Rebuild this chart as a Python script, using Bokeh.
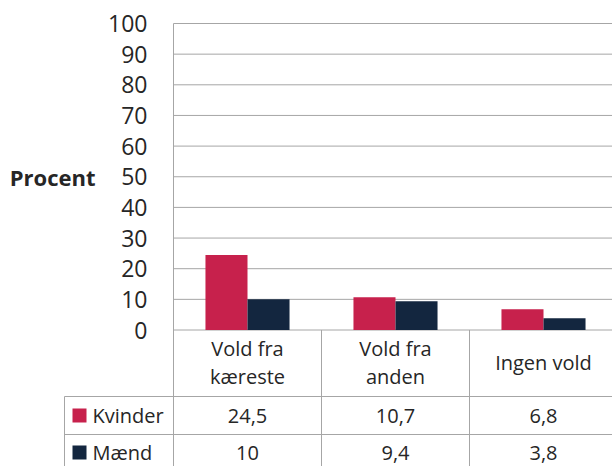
from bokeh.plotting import figure
from bokeh.models import Range1d
from bokeh.embed import file_html
from bokeh.resources import INLINE
from bokeh.core.properties import value

categories = ["Vold fra\nkæreste", "Vold fra\nanden", "Ingen vold"]
series_names = ["Kvinder", "Mænd"]
kvinder = [24.5, 10.7, 6.8]
maend = [10, 9.4, 3.8]
y_ticks = [0, 10, 20, 30, 40, 50, 60, 70, 80, 90, 100]
y_label = "Procent"
colors = ["#C7214C", "#13263F"]

FONT = "Open Sans"
TXT = "#262626"
GRID = "#A6A6A6"

# scale: one category = 148 px, 10 % = 30.65 px
PXU = 148.0
PYU = 3.065
def sx(px):  # canvas x -> data x
    return (px - 173) / PXU
def sy(py):  # canvas y -> data y
    return (329.5 - py) / PYU

X0, X1 = sx(0), sx(612)
Y0, Y1 = sy(466), sy(0)

p = figure(width=612, height=466, x_range=Range1d(X0, X1), y_range=Range1d(Y0, Y1),
           output_backend="svg", toolbar_location=None,
           x_axis_location=None, y_axis_location=None,
           min_border_left=0, min_border_right=0, min_border_top=0, min_border_bottom=0)
p.outline_line_color = None
p.grid.visible = False

n = len(categories)
xc = [i + 0.5 for i in range(n)]
bw = 0.284

# gridlines
p.segment(x0=[0] * len(y_ticks), y0=y_ticks, x1=[X1] * len(y_ticks), y1=y_ticks,
          line_color=GRID, line_width=1)
# axis line (continues down through the data table)
p.segment(x0=[0], y0=[max(y_ticks)], x1=[0], y1=[Y0], line_color=GRID, line_width=1)

# tick labels
p.text(x=[sx(147)] * len(y_ticks), y=y_ticks, text=[str(t) for t in y_ticks],
       text_font=value(FONT), text_font_size="23px", text_color=TXT,
       text_align="right", text_baseline="middle")
p.text(x=[sx(95)], y=[50], text=[y_label],
       text_font=value(FONT), text_font_size="22px", text_font_style="bold",
       text_color=TXT, text_align="right", text_baseline="middle")

# bars
p.vbar(x=[x - bw / 2 for x in xc], top=kvinder, width=bw, bottom=0,
       fill_color=colors[0], line_color=None)
p.vbar(x=[x + bw / 2 for x in xc], top=maend, width=bw, bottom=0,
       fill_color=colors[1], line_color=None)

# ---------- data table ----------
r1, r2 = sy(396), sy(434)
xleg = sx(64)
p.segment(x0=[xleg, xleg], y0=[r1, r2], x1=[X1, X1], y1=[r1, r2],
          line_color=GRID, line_width=1)
vx = [xleg] + [float(i) for i in range(1, n)]
vy0 = [r1] + [0] * (n - 1)
p.segment(x0=vx, y0=vy0, x1=vx, y1=[Y0] * len(vx), line_color=GRID, line_width=1)

p.text(x=xc, y=[sy(362)] * n, text=categories,
       text_font=value(FONT), text_font_size="20px", text_color=TXT,
       text_align="center", text_baseline="middle", text_line_height=1.07)

fmt = lambda v: f"{v:g}".replace(".", ",")
p.text(x=xc, y=[sy(415)] * n, text=[fmt(v) for v in kvinder],
       text_font=value(FONT), text_font_size="20px", text_color=TXT,
       text_align="center", text_baseline="middle")
p.text(x=xc, y=[sy(452)] * n, text=[fmt(v) for v in maend],
       text_font=value(FONT), text_font_size="20px", text_color=TXT,
       text_align="center", text_baseline="middle")

ly = [sy(415), sy(452)]
p.scatter(x=[sx(79)] * 2, y=ly, marker="square", size=14,
          fill_color=colors, line_color=None)
p.text(x=[sx(92)] * 2, y=ly, text=series_names,
       text_font=value(FONT), text_font_size="20px", text_color=TXT,
       text_align="left", text_baseline="middle")

open("out.html", "w").write(file_html(p, INLINE))
